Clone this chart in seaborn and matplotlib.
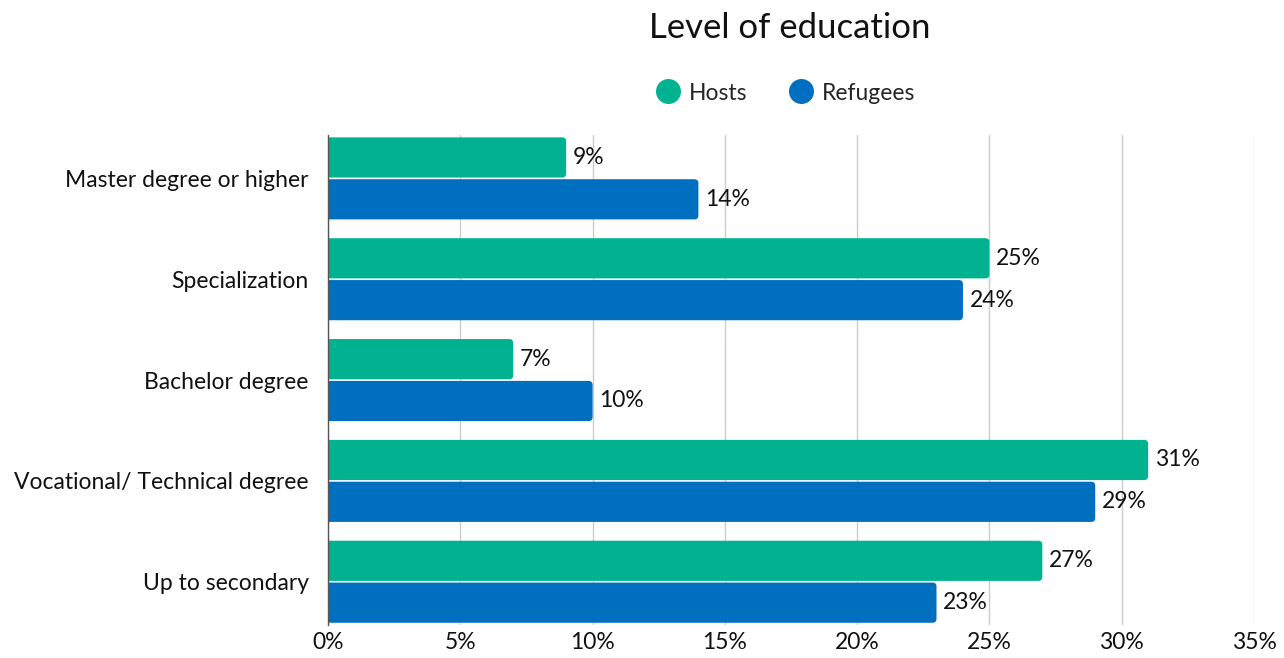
import matplotlib
matplotlib.use("Agg")
import matplotlib.pyplot as plt
from matplotlib.patches import FancyBboxPatch
from matplotlib.lines import Line2D
from matplotlib.ticker import MultipleLocator, FuncFormatter
import seaborn as sns
import pandas as pd

categories = ["Master degree or higher", "Specialization", "Bachelor degree",
              "Vocational/ Technical degree", "Up to secondary"]
hosts = [9, 25, 7, 31, 27]
refugees = [14, 24, 10, 29, 23]
groups = ["Hosts", "Refugees"]
colors = {"Hosts": "#00B28F", "Refugees": "#006FC0"}

df = pd.DataFrame({
    "category": categories * 2,
    "value": hosts + refugees,
    "group": ["Hosts"] * len(categories) + ["Refugees"] * len(categories),
})

sns.set_theme(style="white")
plt.rcParams["font.family"] = ["Lato", "DejaVu Sans"]

fig = plt.figure(figsize=(12.84, 6.58), dpi=100)
ax = fig.add_axes([0.2555, 0.050, 0.7211, 0.7448])

sns.barplot(data=df, x="value", y="category", hue="group", order=categories,
            hue_order=groups, palette=colors, saturation=1, orient="h",
            width=0.83, gap=0.04, legend=False, ax=ax)

ax.set_xlim(0, 35)
ax.set_ylim(4.43, -0.43)

# swap plain rectangles for bars with rounded ends
rx, ry = 0.15, 0.04
for bar in list(ax.patches):
    x0, y0 = bar.get_x(), bar.get_y()
    w, h = bar.get_width(), bar.get_height()
    fc = bar.get_facecolor()
    bar.set_visible(False)
    rb = FancyBboxPatch((x0 - 0.3, y0), w + 0.3, h,
                        boxstyle=f"round,pad=0,rounding_size={rx}",
                        mutation_aspect=ry / rx, facecolor=fc, edgecolor="none",
                        zorder=2, clip_on=True)
    ax.add_patch(rb)
    ax.text(x0 + w + 0.25, y0 + h / 2, f"{w:.0f}%", va="center", ha="left",
            fontsize=16.5, color="#111111")

ax.xaxis.set_major_locator(MultipleLocator(5))
ax.xaxis.set_major_formatter(FuncFormatter(lambda v, p: f"{v:.0f}%"))
ax.grid(axis="x", color="#cccccc", linewidth=1)
ax.set_axisbelow(True)
for s in ["top", "right", "bottom"]:
    ax.spines[s].set_visible(False)
ax.spines["left"].set_color("#555555")
ax.spines["left"].set_linewidth(1)
ax.tick_params(axis="y", length=0, pad=14, labelsize=16.5, labelcolor="#111111")
ax.tick_params(axis="x", length=0, pad=5, labelsize=16.5, labelcolor="#111111")
ax.set_xlabel("")
ax.set_ylabel("")

fig.text(790 / 1284, 1 - 28 / 658, "Level of education", ha="center", va="center",
         fontsize=25, color="#111111")

handles = [Line2D([], [], marker="o", linestyle="none", markersize=18,
                  markerfacecolor=colors[g], markeredgecolor="none") for g in groups]
fig.legend(handles, groups, loc="center", bbox_to_anchor=(785 / 1284, 1 - 93 / 658),
           ncol=2, frameon=False, fontsize=16.5, handletextpad=0.35, columnspacing=1.8,
           handlelength=1.1)

fig.savefig("out.png", dpi=100)
